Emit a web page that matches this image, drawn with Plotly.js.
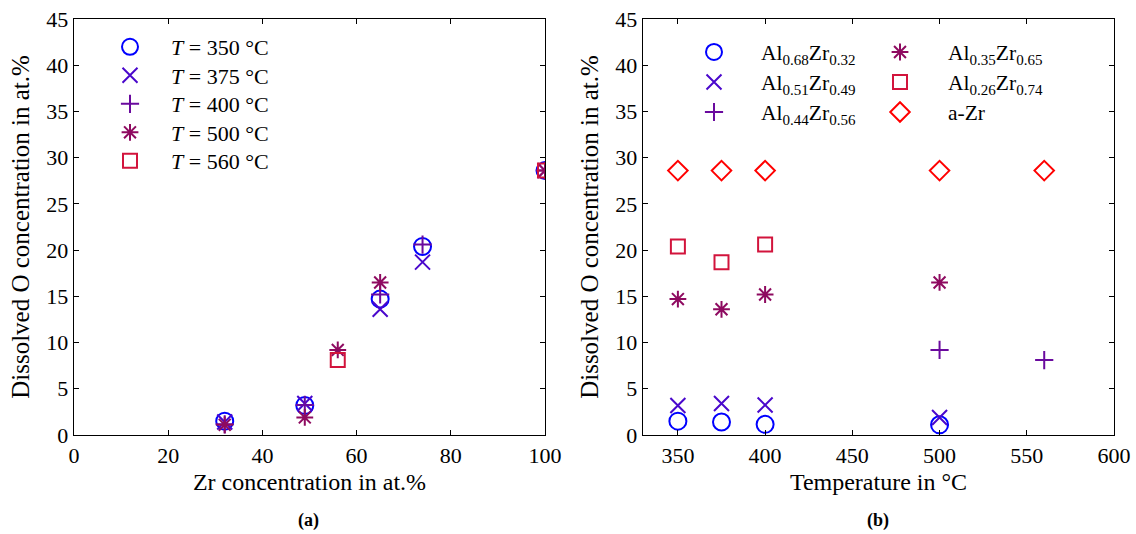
<!DOCTYPE html>
<html>
<head>
<meta charset="utf-8">
<script src="https://cdn.plot.ly/plotly-3.0.1.min.js"></script>
<style>html,body{margin:0;padding:0;background:#fff}#chart{width:1136px;height:534px}</style>
</head>
<body>
<div id="chart"></div>
<script>
// Zr concentration (at.%) of each alloy
const zr = [32, 49, 56, 65, 74, 100];
const compLabels = ['Al<sub>0.68</sub>Zr<sub>0.32</sub>', 'Al<sub>0.51</sub>Zr<sub>0.49</sub>', 'Al<sub>0.44</sub>Zr<sub>0.56</sub>',
                    'Al<sub>0.35</sub>Zr<sub>0.65</sub>', 'Al<sub>0.26</sub>Zr<sub>0.74</sub>', 'a-Zr'];
// annealing temperatures (°C)
const temps = [350, 375, 400, 500, 560];
const tempLabels = ['<i>T</i> = 350 °C', '<i>T</i> = 375 °C', '<i>T</i> = 400 °C', '<i>T</i> = 500 °C', '<i>T</i> = 560 °C'];
// dissolved O concentration (at.%) per temperature, indexed like zr
const o350 = [1.5, 3.2, null, 14.7, 20.4, 28.6];
const o375 = [1.4, 3.4, null, 13.6, 18.7, 28.6];
const o400 = [1.15, 3.25, null, 15.2, 20.6, 28.6];
const o500 = [1.1, 1.9, 9.2, 16.5, null, 28.6];
const o560 = [null, null, 8.1, null, null, 28.6];
const byTemp = [o350, o375, o400, o500, o560];

const colors = ['#0000FF', '#4A08CC', '#6A0A9E', '#8E0A60', '#D2143C', '#FF0000'];
const symbols = ['circle-open', 'x-thin-open', 'cross-thin-open', 'asterisk-open', 'square-open', 'diamond-open'];
const sizes = [17, 15, 13, 14, 14, 15];

const FAM = 'Liberation Serif';
const W = 1136, H = 534;
const fx = p => p / W, fy = p => 1 - p / H;

// one legend box per entry so every row sits where the reference has it
const legName = k => (k === 0 ? 'legend' : 'legend' + (k + 1));
const legendBoxes = [];
const legBase = {xanchor: 'left', yanchor: 'middle', bgcolor: 'rgba(0,0,0,0)', borderwidth: 0, itemclick: false};

const traces = [];
const leftRows = [47, 75.5, 104, 132.5, 161];
temps.forEach((t, j) => {
  const k = traces.length;
  traces.push({
    type: 'scatter', mode: 'markers', x: zr, y: byTemp[j], name: tempLabels[j],
    xaxis: 'x', yaxis: 'y', legend: legName(k),
    marker: {symbol: symbols[j], size: sizes[j], color: colors[j], line: {color: colors[j], width: 2}}
  });
  legendBoxes.push([legName(k), Object.assign({}, legBase, {x: fx(89), y: fy(leftRows[j]), itemwidth: 72,
    font: {family: FAM, size: 22, color: '#000'}})]);
});
const rightRows = [52, 82, 112];
zr.forEach((z, i) => {
  const k = traces.length;
  traces.push({
    type: 'scatter', mode: 'markers', x: temps, y: byTemp.map(a => a[i]), name: compLabels[i],
    xaxis: 'x2', yaxis: 'y2', legend: legName(k),
    marker: {symbol: symbols[i], size: sizes[i], color: colors[i], line: {color: colors[i], width: 2}}
  });
  const col = i < 3 ? 0 : 1;
  legendBoxes.push([legName(k), Object.assign({}, legBase, {
    x: fx(col ? 852 : 667), y: fy(rightRows[i % 3]), itemwidth: col ? 86 : 84,
    font: {family: FAM, size: 21.5, color: '#000'}})]);
});

const axBase = {
  showline: true, linecolor: '#000', linewidth: 1.3, mirror: 'ticks', ticks: 'inside', ticklen: 5,
  tickcolor: '#000', tickwidth: 1, showgrid: false, zeroline: false, automargin: false,
  tickfont: {family: FAM, size: 22, color: '#000'}
};
const xTitleFont = {family: FAM, size: 24, color: '#000'};
const yTitleFont = {family: FAM, size: 25, color: '#000'};

const layout = {
  width: W, height: H, margin: {l: 0, r: 0, t: 0, b: 0},
  paper_bgcolor: '#fff', plot_bgcolor: '#fff',
  font: {family: FAM, size: 20, color: '#000'},
  xaxis: Object.assign({}, axBase, {domain: [fx(74), fx(545)], range: [0, 100], tick0: 0, dtick: 20, anchor: 'y',
    title: {text: 'Zr concentration in at.%', standoff: 6, font: xTitleFont}}),
  yaxis: Object.assign({}, axBase, {domain: [fy(435), fy(19)], range: [0, 45], tick0: 0, dtick: 5, anchor: 'x',
    title: {text: 'Dissolved O concentration in at.%', standoff: 9, font: yTitleFont}}),
  xaxis2: Object.assign({}, axBase, {domain: [fx(643), fx(1114)], range: [330, 600], tick0: 350, dtick: 50, anchor: 'y2',
    title: {text: 'Temperature in °C', standoff: 6, font: xTitleFont}}),
  yaxis2: Object.assign({}, axBase, {domain: [fy(435), fy(19)], range: [0, 45], tick0: 0, dtick: 5, anchor: 'x2',
    title: {text: 'Dissolved O concentration in at.%', standoff: 9, font: yTitleFont}}),
  showlegend: true,
  annotations: [
    {text: '<b>(a)</b>', x: fx(308), y: fy(520), xref: 'paper', yref: 'paper', xanchor: 'center', yanchor: 'middle',
     showarrow: false, font: {family: FAM, size: 18}},
    {text: '<b>(b)</b>', x: fx(878), y: fy(520), xref: 'paper', yref: 'paper', xanchor: 'center', yanchor: 'middle',
     showarrow: false, font: {family: FAM, size: 18}}
  ]
};
legendBoxes.forEach(([name, cfg]) => { layout[name] = cfg; });

Plotly.newPlot('chart', traces, layout, {staticPlot: true, displayModeBar: false});
</script>
</body>
</html>
